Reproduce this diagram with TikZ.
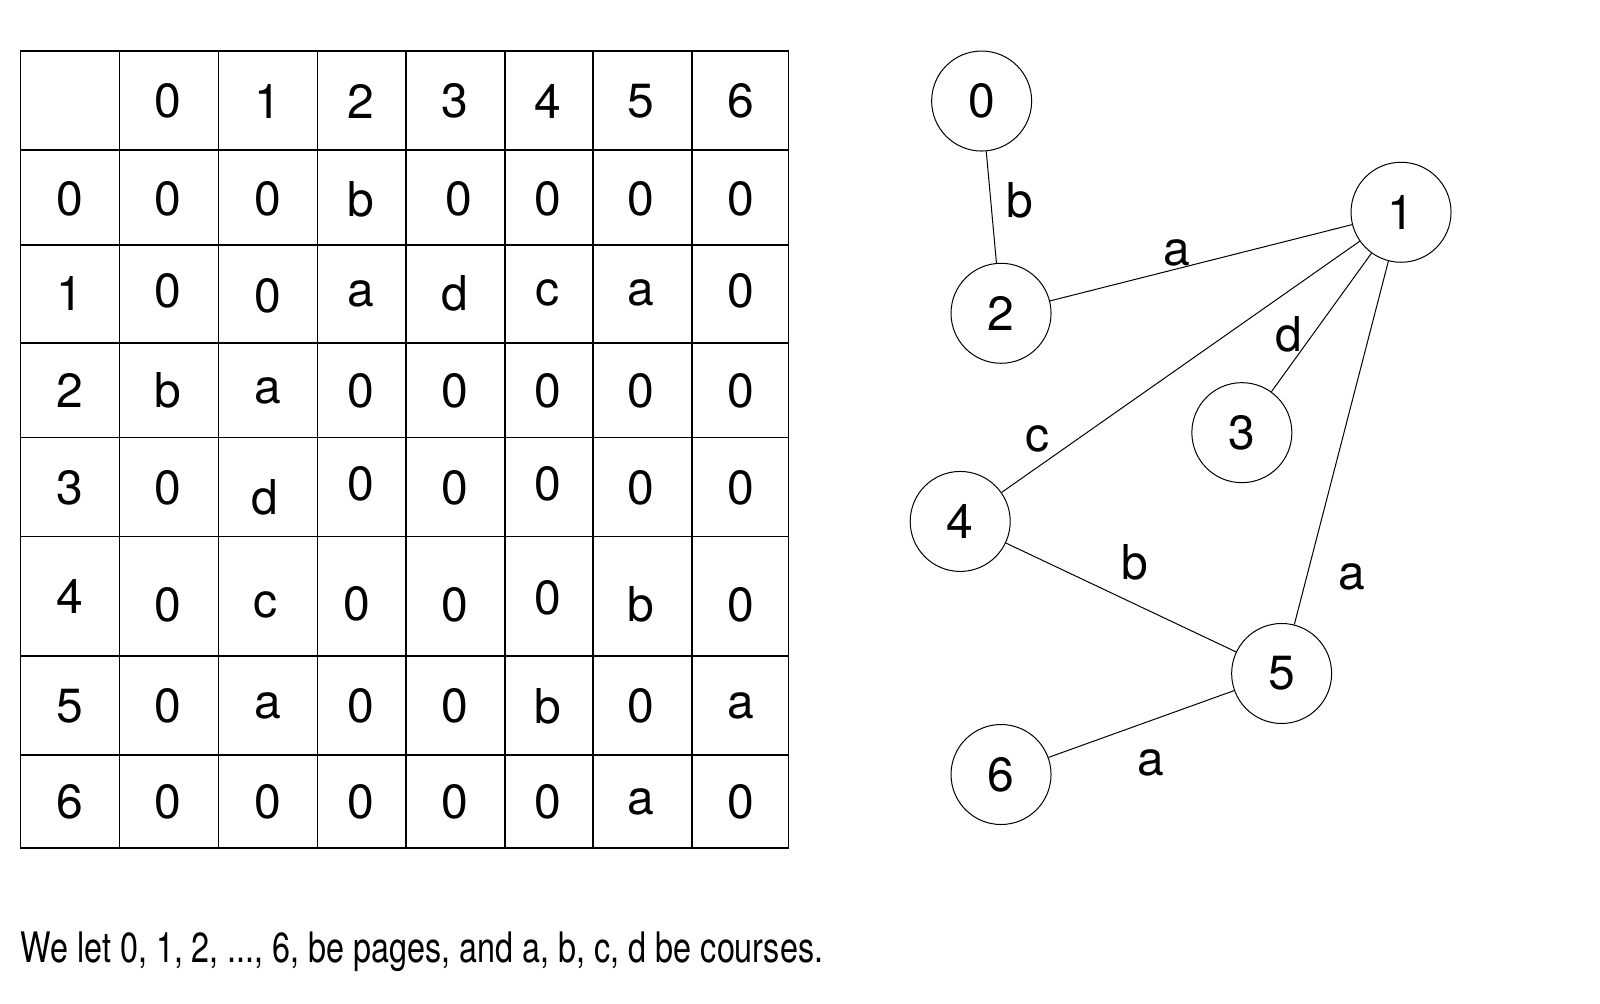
\documentclass[tikz,border=0pt]{standalone}
\usepackage{fontspec}
\setmainfont{TeX Gyre Heros}
\begin{document}
\begin{tikzpicture}
  [x=0.5102pt,y=-0.5102pt,
   every node/.style={font=\fontsize{24}{28}\selectfont,inner sep=0pt},
   vertex/.style={circle,draw,line width=0.5pt,minimum size=50pt}]
  \useasboundingbox (0,0) rectangle (1568,983);

  % table grid
  \foreach \x in {20,117,214,311,398,495,581,678,773}
    \draw[line width=0.7pt] (\x,50) -- (\x,831);
  \foreach \y in {50,147,240,336,429,526,643,740,831}
    \draw[line width=0.7pt] (20,\y) -- (773,\y);

  % header row and column
  \foreach \x/\t [count=\c from 0] in {164/0,262/1,354/2,446/3,537/4,628/5,726/6}
    \node (h\c) at (\x,99) {\t};
  \foreach \y/\t [count=\c from 0] in {195/0,288/1,383/2,478/3,585/4,692/5,786/6}
    \node (v\c) at (68,\y) {\t};

  % entries
  \foreach \x/\y/\t [count=\c from 0] in {164/195/0,262/195/0,354/195/b,450/195/0,537/195/0,628/195/0,726/195/0}
    \node (m0\c) at (\x,\y) {\t};
  \foreach \x/\y/\t [count=\c from 0] in {164/285/0,262/290/0,354/288/a,446/287/d,537/287/c,628/287/a,726/285/0}
    \node (m1\c) at (\x,\y) {\t};
  \foreach \x/\y/\t [count=\c from 0] in {164/383/b,262/383/a,354/383/0,446/383/0,537/383/0,628/383/0,726/383/0}
    \node (m2\c) at (\x,\y) {\t};
  \foreach \x/\y/\t [count=\c from 0] in {164/478/0,260/487/d,354/474/0,446/478/0,537/474/0,628/478/0,726/478/0}
    \node (m3\c) at (\x,\y) {\t};
  \foreach \x/\y/\t [count=\c from 0] in {164/593/0,260/593/c,350/592/0,446/593/0,537/586/0,628/592/b,726/593/0}
    \node (m4\c) at (\x,\y) {\t};
  \foreach \x/\y/\t [count=\c from 0] in {164/692/0,262/692/a,354/692/0,446/692/0,537/692/b,628/692/0,726/692/a}
    \node (m5\c) at (\x,\y) {\t};
  \foreach \x/\y/\t [count=\c from 0] in {164/786/0,262/786/0,354/786/0,446/786/0,537/786/0,628/786/a,726/786/0}
    \node (m6\c) at (\x,\y) {\t};

  % graph
  \node[vertex] (p0) at (962,99)  {0};
  \node[vertex] (p1) at (1373,208) {1};
  \node[vertex] (p2) at (981,307) {2};
  \node[vertex] (p3) at (1217,424) {3};
  \node[vertex] (p4) at (941,511) {4};
  \node[vertex] (p5) at (1256,660) {5};
  \node[vertex] (p6) at (981,759) {6};
  \foreach \from/\to in {p0/p2,p2/p1,p1/p4,p1/p3,p1/p5,p4/p5,p5/p6}
    \draw[line width=0.5pt] (\from) -- (\to);

  % edge labels
  \node (l02) at (999,196)  {b};
  \node (l21) at (1153,248) {a};
  \node (l13) at (1263,328) {d};
  \node (l14) at (1017,430) {c};
  \node (l15) at (1325,565) {a};
  \node (l45) at (1112,551) {b};
  \node (l56) at (1128,748) {a};

  \node[anchor=base west,font=\fontsize{21}{24}\selectfont,xscale=0.77,transform shape]
    (note) at (20,943) {We let 0, 1, 2, ..., 6, be pages, and a, b, c, d be courses.};
\end{tikzpicture}
\end{document}
